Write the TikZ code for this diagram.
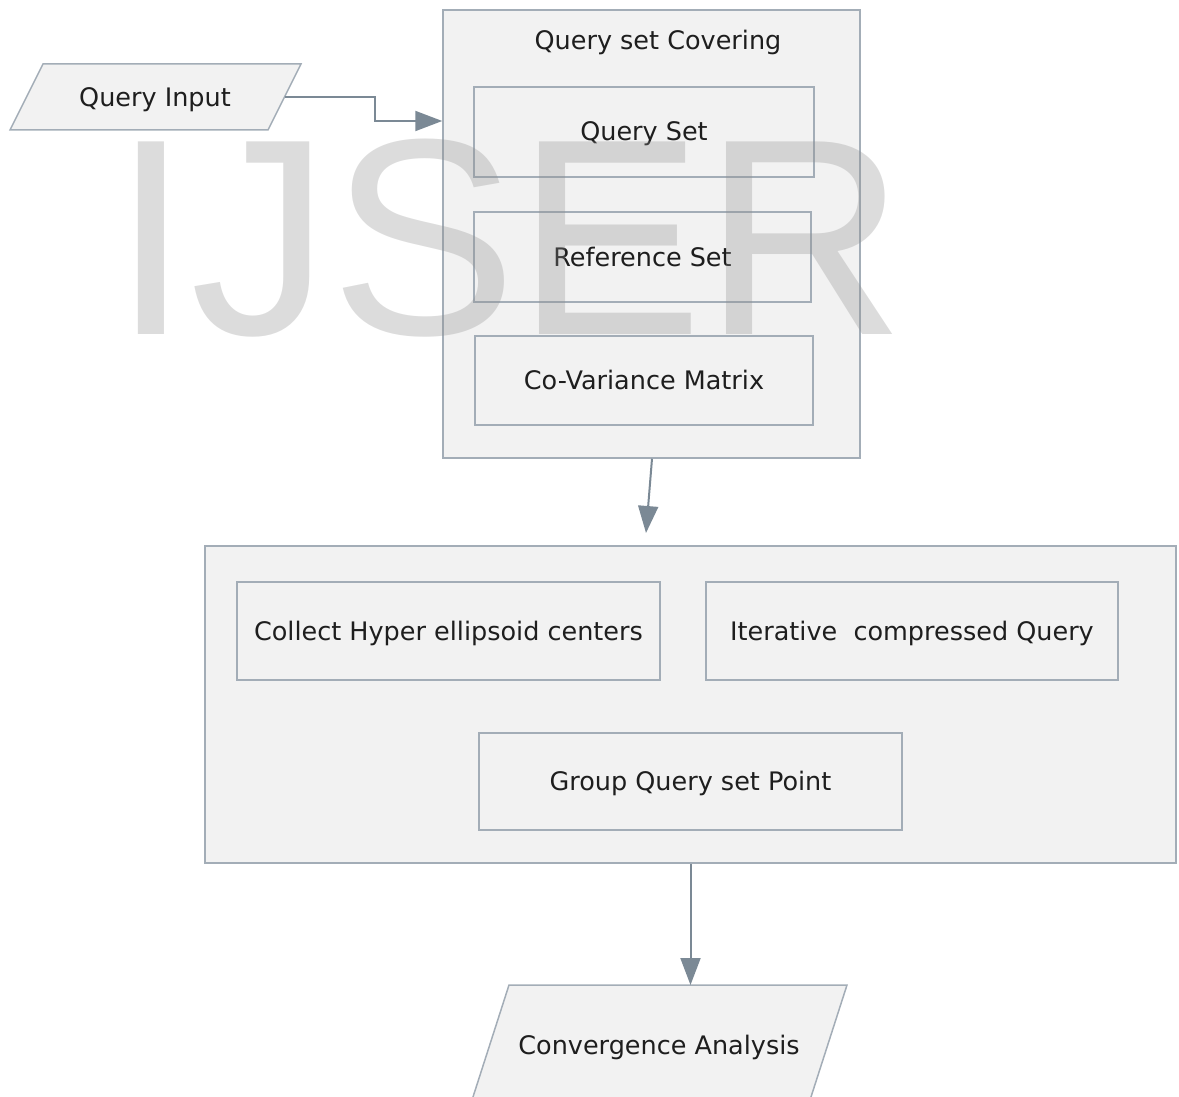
\documentclass[tikz,border=0pt]{standalone}
\usepackage{fontspec}
\setmainfont{DejaVu Sans}
\newfontfamily\wmfont{Liberation Sans}
\usetikzlibrary{arrows.meta,calc}
\definecolor{boxfill}{HTML}{F2F2F2}
\definecolor{boxline}{HTML}{A3ADB7}
\definecolor{arrowc}{HTML}{7B8995}
\definecolor{txt}{HTML}{1E1E1E}
\begin{document}
\begin{tikzpicture}[x=1pt,y=-1pt,
  txtstyle/.style={font=\fontsize{25.5}{30}\selectfont, text=txt, text height=24pt, text depth=6pt},
  container/.style={draw=boxline, fill=boxfill, line width=1.5pt, inner sep=0pt},
  inbox/.style={draw=boxline, fill=boxfill, line width=1.3pt, inner sep=0pt, txtstyle},
  para/.style={draw=boxline, fill=boxfill, line width=1.5pt},
  conn/.style={draw=arrowc, line width=2pt, -{Triangle[length=27pt,width=20pt]}}
]
\useasboundingbox (0,0) rectangle (1179,1097);
% Query Input
\draw[para] (43,64) -- (301,64) -- (268,130) -- (10,130) -- cycle;
\node[txtstyle] (qi) at (155,98) {Query Input};
\coordinate (qiE) at (284.5,97);
% Query set Covering container
\node[container, minimum width=417pt, minimum height=448pt] (cover) at (651.5,234) {};
\node[txtstyle] (covtitle) at (658,41) {Query set Covering};
\node[inbox, minimum width=340pt, minimum height=90pt] (qset) at (644,132) {Query Set};
\node[inbox, minimum width=337pt, minimum height=90pt] (rset) at (642.5,257) {Reference Set};
\node[inbox, minimum width=338pt, minimum height=89pt] (cov) at (644,380.5) {Co-Variance Matrix};
% process container
\node[container, minimum width=971pt, minimum height=317pt] (proc) at (690.5,704.5) {};
\node[inbox, minimum width=423pt, minimum height=98pt] (collect) at (448.5,631) {Collect Hyper ellipsoid centers};
\node[inbox, minimum width=412pt, minimum height=98pt] (iter) at (912,631) {Iterative\ \ compressed Query};
\node[inbox, minimum width=423pt, minimum height=97pt] (group) at (690.5,781.5) {Group Query set Point};
% Convergence Analysis
\draw[para] (509,985) -- (847,985) -- (806.8,1110) -- (468.8,1110) -- cycle;
\node[txtstyle] (conv) at (659,1045) {Convergence Analysis};
\coordinate (convTop) at (690.5,985);
% connectors
\coordinate (y121) at (0,121);
\coordinate (midEnd) at (646,533);
\draw[conn] (qiE) -- (375,97) -- (375,121) -- (cover.west |- y121);
\draw[conn] (cover.south -| 652,0) -- (midEnd);
\draw[conn] (proc.south) -- (convTop);
% watermark
\node[anchor=base, inner sep=0pt, text=black!45, opacity=0.3,
      font=\wmfont\fontsize{280}{300}\selectfont] (wm) at (509,334) {IJSER};
\end{tikzpicture}
\end{document}
